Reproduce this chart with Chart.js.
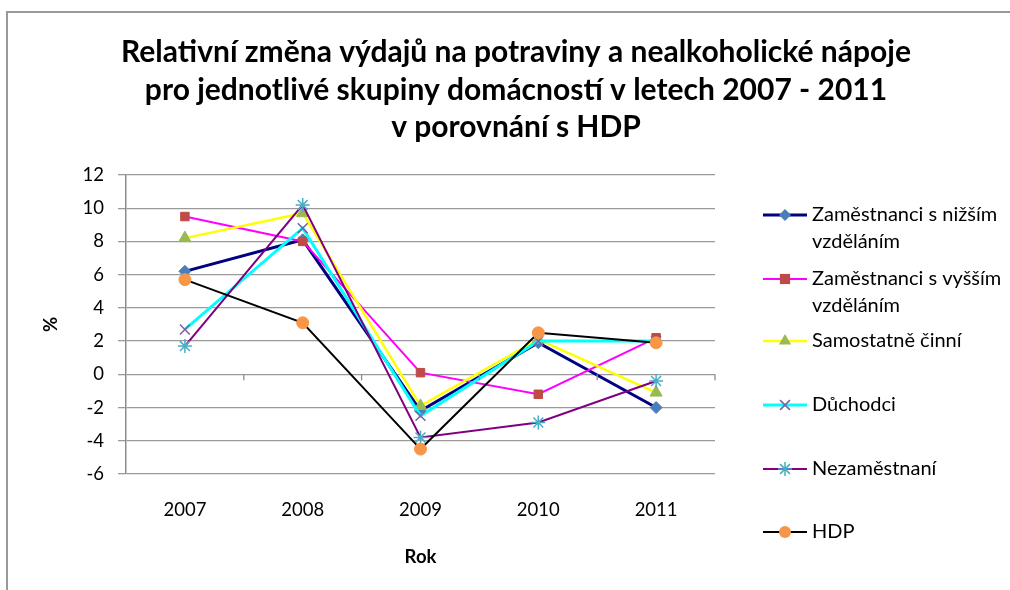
<!DOCTYPE html>
<html><head><meta charset="utf-8">
<script src="https://cdn.jsdelivr.net/npm/chart.js@4.4.1/dist/chart.umd.min.js"></script>
<style>
html,body{margin:0;padding:0;background:#fff;overflow:hidden;}
#wrap{position:relative;width:1010px;height:590px;overflow:hidden;}
#frame{position:absolute;left:6px;top:11px;width:1100px;height:700px;border:2px solid #999;box-sizing:border-box;}
canvas{position:absolute;left:0;top:0;}
</style></head><body>
<div id="wrap"><div id="frame"></div><canvas id="c" width="1010" height="590"></canvas></div>
<script>
const titleLines = ['Relativní změna výdajů na potraviny a nealkoholické nápoje', 'pro jednotlivé skupiny domácností v letech 2007 - 2011', 'v porovnání s HDP'];
const years = ['2007', '2008', '2009', '2010', '2011'];
const seriesLabels = [['Zaměstnanci s nižším', 'vzděláním'], ['Zaměstnanci s vyšším', 'vzděláním'], ['Samostatně činní'], ['Důchodci'], ['Nezaměstnaní'], ['HDP']];
const nizsiVzdelani = [6.2, 8.1, -2.2, 1.9, -2.0];
const vyssiVzdelani = [9.5, 8.0, 0.1, -1.2, 2.2];
const samostatneCinni = [8.2, 9.7, -1.9, 2.1, -1.1];
const duchodci = [2.7, 8.8, -2.5, 2.0, 2.0];
const nezamestnani = [1.7, 10.2, -3.8, -2.9, -0.4];
const hdp = [5.7, 3.1, -4.5, 2.5, 1.9];
const yMin = -6, yMax = 12, yStep = 2;
const xTitle = 'Rok', yTitle = '%';

const FONT = 'Lato, "Open Sans", sans-serif';
const styles = [
  {line:'#000080', w:3, ps:'rectRot', fill:'#4a7ebb', stroke:'#4a7ebb', r:6, bw:1},
  {line:'#ff00ff', w:2, ps:'rect', fill:'#be4b48', stroke:'#be4b48', r:6, bw:1},
  {line:'#ffff00', w:2.5, ps:'triangle', fill:'#98b954', stroke:'#98b954', r:7, bw:1},
  {line:'#00ffff', w:3, ps:'crossRot', fill:'#7d60a0', stroke:'#7d60a0', r:7, bw:1.5},
  {line:'#800080', w:2, ps:'star', fill:'#4bacc6', stroke:'#4bacc6', r:7, bw:1.5},
  {line:'#000000', w:2, ps:'circle', fill:'#f79646', stroke:'#f79646', r:6, bw:1}
];
const seriesData = [nizsiVzdelani, vyssiVzdelani, samostatneCinni, duchodci, nezamestnani, hdp];

const datasets = seriesData.map((d, i) => ({
  label: seriesLabels[i].join(' '),
  data: d,
  borderColor: styles[i].line,
  borderWidth: styles[i].w,
  pointStyle: styles[i].ps,
  pointRadius: styles[i].r,
  pointBackgroundColor: styles[i].fill,
  pointBorderColor: styles[i].stroke,
  pointBorderWidth: styles[i].bw,
  tension: 0,
  fill: false,
  order: seriesData.length - i
}));

function drawMarker(ctx, st, x, y) {
  const r = st.r;
  ctx.save();
  ctx.fillStyle = st.fill; ctx.strokeStyle = st.stroke; ctx.lineWidth = st.bw;
  ctx.beginPath();
  switch (st.ps) {
    case 'rectRot': ctx.moveTo(x, y - r); ctx.lineTo(x + r, y); ctx.lineTo(x, y + r); ctx.lineTo(x - r, y); ctx.closePath(); ctx.fill(); break;
    case 'rect': { const s = r * 0.85; ctx.rect(x - s, y - s, 2 * s, 2 * s); ctx.fill(); break; }
    case 'triangle': ctx.moveTo(x, y - r); ctx.lineTo(x + r * 0.87, y + r * 0.5); ctx.lineTo(x - r * 0.87, y + r * 0.5); ctx.closePath(); ctx.fill(); break;
    case 'crossRot': { const s = r * 0.7; ctx.moveTo(x - s, y - s); ctx.lineTo(x + s, y + s); ctx.moveTo(x + s, y - s); ctx.lineTo(x - s, y + s); ctx.stroke(); break; }
    case 'star': { const s = r * 0.7; ctx.moveTo(x - s, y - s); ctx.lineTo(x + s, y + s); ctx.moveTo(x + s, y - s); ctx.lineTo(x - s, y + s); ctx.moveTo(x, y - r); ctx.lineTo(x, y + r); ctx.moveTo(x - r, y); ctx.lineTo(x + r, y); ctx.stroke(); break; }
    default: ctx.arc(x, y, r, 0, Math.PI * 2); ctx.fill();
  }
  ctx.restore();
}

const extras = {
  id: 'extras',
  afterDraw(chart) {
    const ctx = chart.ctx;
    const xs = chart.scales.x, ys = chart.scales.y;
    ctx.save();
    // title
    ctx.fillStyle = '#000';
    ctx.font = 'bold 30px ' + FONT;
    ctx.textAlign = 'center'; ctx.textBaseline = 'middle';
    const tY = [52, 90, 127];
    titleLines.forEach((t, i) => ctx.fillText(t, 516, tY[i]));
    // category tick marks on zero line
    const y0 = ys.getPixelForValue(0);
    ctx.strokeStyle = '#8c8c8c'; ctx.lineWidth = 1.3;
    for (let i = 0; i < years.length; i++) {
      const xb = xs.getPixelForValue(i) + (xs.getPixelForValue(1) - xs.getPixelForValue(0)) / 2;
      ctx.beginPath(); ctx.moveTo(xb, y0); ctx.lineTo(xb, y0 + 6); ctx.stroke();
    }
    // legend
    const rows = [215, 279, 341, 405, 469, 532];
    ctx.font = '20px ' + FONT;
    ctx.textAlign = 'left'; ctx.textBaseline = 'middle';
    seriesLabels.forEach((lines, i) => {
      const y = rows[i];
      const st = styles[i];
      ctx.strokeStyle = st.line; ctx.lineWidth = st.w;
      ctx.beginPath(); ctx.moveTo(763, y); ctx.lineTo(807, y); ctx.stroke();
      drawMarker(ctx, st, 785, y);
      ctx.fillStyle = '#000';
      lines.forEach((ln, k) => ctx.fillText(ln, 812, y + k * 27));
    });
    ctx.restore();
  }
};

new Chart(document.getElementById('c'), {
  type: 'line',
  data: { labels: years, datasets },
  options: {
    responsive: false,
    animation: false,
    layout: { padding: { left: 0, right: 295, top: 175, bottom: 0 } },
    plugins: { legend: { display: false }, title: { display: false }, tooltip: { enabled: false } },
    scales: {
      x: {
        offset: true,
        grid: { display: false, drawTicks: false },
        border: { display: false },
        ticks: { color: '#000', font: { family: FONT, size: 18.5 }, padding: 25 },
        title: { display: true, text: xTitle, color: '#000', font: { family: FONT, size: 18.5, weight: 'bold' }, padding: { top: 0, bottom: 22 } },
        afterFit: s => { s.height = 116; }
      },
      y: {
        min: yMin, max: yMax,
        ticks: { stepSize: yStep, color: '#000', font: { family: FONT, size: 18.5 }, padding: 14 },
        grid: { color: '#9a9a9a', lineWidth: 1.3, tickLength: 8, drawTicks: true },
        border: { display: true, color: '#8c8c8c', width: 1.5 },
        title: { display: true, text: yTitle, color: '#000', font: { family: FONT, size: 18.5, weight: 'bold' }, padding: { top: 40, bottom: 0 } },
        afterFit: s => { s.width = 126; }
      }
    }
  },
  plugins: [extras]
});
</script>
</body></html>
